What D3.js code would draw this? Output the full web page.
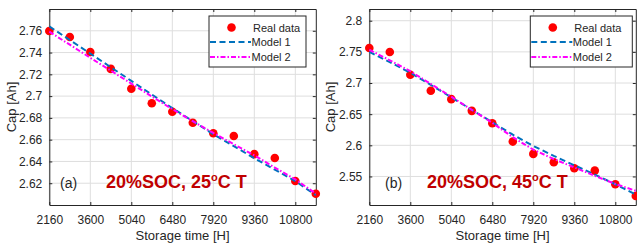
<!DOCTYPE html>
<html>
<head>
<meta charset="utf-8">
<script src="https://cdn.jsdelivr.net/npm/d3@7"></script>
<style>
  body { margin: 0; background: #fff; }
  svg { display: block; font-family: "Liberation Sans", Arial, sans-serif; }
</style>
</head>
<body>
<script>
// storage time in hours (one sample every 720 h)
const hours = [2160, 2880, 3600, 4320, 5040, 5760, 6480, 7200, 7920, 8640, 9360, 10080, 10800, 11520];

// (a) 20%SOC, 25C
const realA   = [2.7598, 2.7543, 2.7405, 2.7250, 2.7068, 2.6934, 2.6857, 2.6756, 2.6659, 2.6634, 2.6467, 2.6432, 2.6220, 2.6104];
const model1A = [2.7640, 2.7515, 2.7390, 2.7265, 2.7140, 2.7015, 2.6890, 2.6770, 2.6650, 2.6540, 2.6430, 2.6325, 2.6220, 2.6090];
const model2A = [2.7592, 2.7472, 2.7352, 2.7234, 2.7115, 2.6997, 2.6880, 2.6770, 2.6662, 2.6558, 2.6456, 2.6344, 2.6235, 2.6105];

// (b) 20%SOC, 45C
const realB   = [2.7561, 2.7497, 2.7132, 2.6875, 2.6741, 2.6553, 2.6355, 2.6060, 2.5862, 2.5728, 2.5632, 2.5594, 2.5375, 2.5187];
const model1B = [2.7500, 2.7335, 2.7165, 2.6970, 2.6770, 2.6570, 2.6370, 2.6170, 2.5990, 2.5830, 2.5680, 2.5530, 2.5375, 2.5210];
const model2B = [2.7534, 2.7365, 2.7190, 2.6985, 2.6780, 2.6570, 2.6360, 2.6130, 2.5930, 2.5780, 2.5645, 2.5510, 2.5380, 2.5270];

const xTicks  = [2160, 3600, 5040, 6480, 7920, 9360, 10800];
const yTicksA = [2.62, 2.64, 2.66, 2.68, 2.70, 2.72, 2.74, 2.76];
const yTicksB = [2.55, 2.60, 2.65, 2.70, 2.75, 2.80];

const seriesNames = ["Real data", "Model 1", "Model 2"];

const svg = d3.select("body").append("svg")
    .attr("width", 637)
    .attr("height", 246);

const axisCol = "#262626";
const blue = "#0072bd", magenta = "#ff00ff", red = "#ff0000";
const dashBlue = "6,3.5", dashMag = "5,2,1.5,2";

function drawPanel(cfg) {
    const x = d3.scaleLinear().domain([2160, 11520]).range([cfg.left, cfg.left + 266.5]);
    const y = d3.scaleLinear().domain(cfg.yDomain).range([205, 9]);
    const [x0, x1] = x.range();
    const [y0, y1] = y.range();

    const g = svg.append("g");

    // grid
    g.append("g").selectAll("line.gx").data(xTicks).join("line")
        .attr("x1", d => x(d)).attr("x2", d => x(d))
        .attr("y1", y0).attr("y2", y1)
        .attr("stroke", "#dedede").attr("stroke-width", 1);
    g.append("g").selectAll("line.gy").data(cfg.yTicks).join("line")
        .attr("x1", x0).attr("x2", x1)
        .attr("y1", d => y(d)).attr("y2", d => y(d))
        .attr("stroke", "#dedede").attr("stroke-width", 1);

    // axes (ticks inward, box on)
    const ax = g.append("g").attr("font-size", 12).attr("fill", axisCol);
    const xb = ax.append("g").attr("transform", `translate(0,${y0})`)
        .call(d3.axisBottom(x).tickValues(xTicks).tickSizeInner(-3).tickSizeOuter(0).tickPadding(10).tickFormat(d3.format("d")));
    const xt = ax.append("g").attr("transform", `translate(0,${y1})`)
        .call(d3.axisTop(x).tickValues(xTicks).tickSizeInner(-3).tickSizeOuter(0).tickFormat(""));
    const yl = ax.append("g").attr("transform", `translate(${x0},0)`)
        .call(d3.axisLeft(y).tickValues(cfg.yTicks).tickSizeInner(-3).tickSizeOuter(0).tickPadding(7).tickFormat(d => +d.toFixed(2) + ""));
    const yr = ax.append("g").attr("transform", `translate(${x1},0)`)
        .call(d3.axisRight(y).tickValues(cfg.yTicks).tickSizeInner(-3).tickSizeOuter(0).tickFormat(""));
    [xb, xt, yl, yr].forEach(a => {
        a.attr("font-family", null).attr("font-size", null);
        a.select(".domain").attr("stroke", axisCol);
        a.selectAll(".tick line").attr("stroke", axisCol);
        a.selectAll(".tick text").attr("fill", axisCol);
    });

    // axis labels
    g.append("text")
        .attr("x", (x0 + x1) / 2).attr("y", 240)
        .attr("text-anchor", "middle").attr("font-size", 13).attr("fill", axisCol)
        .text("Storage time [H]");
    g.append("text")
        .attr("transform", `translate(${cfg.yLabelX},107) rotate(-90)`)
        .attr("text-anchor", "middle").attr("font-size", 13).attr("fill", axisCol)
        .text("Cap [Ah]");

    // annotations
    g.append("text")
        .attr("x", cfg.tagX).attr("y", 188)
        .attr("font-size", 14).attr("fill", axisCol)
        .text(cfg.tag);
    const note = g.append("text")
        .attr("x", cfg.noteX).attr("y", 188)
        .attr("font-size", 18).attr("font-weight", "bold").attr("fill", "#c00000");
    note.append("tspan").text("20%SOC, " + cfg.temp);
    note.append("tspan").attr("font-size", 11).attr("dy", -7).text("o");
    note.append("tspan").attr("dy", 7).text("C T");

    // data
    g.append("g").selectAll("circle").data(cfg.real).join("circle")
        .attr("cx", (d, i) => x(hours[i]))
        .attr("cy", d => y(d))
        .attr("r", 4.3)
        .attr("fill", red);

    const line = d3.line()
        .x((d, i) => x(hours[i]))
        .y(d => y(d));

    g.append("path").attr("d", line(cfg.m1))
        .attr("fill", "none").attr("stroke", blue).attr("stroke-width", 2)
        .attr("stroke-dasharray", dashBlue);
    g.append("path").attr("d", line(cfg.m2))
        .attr("fill", "none").attr("stroke", magenta).attr("stroke-width", 2)
        .attr("stroke-dasharray", dashMag);

    // legend
    const lg = g.append("g").attr("transform", `translate(${cfg.legX},16)`);
    lg.append("rect").attr("x", 0).attr("y", 0).attr("width", cfg.legW).attr("height", 51)
        .attr("fill", "#fff").attr("stroke", axisCol).attr("stroke-width", 1);
    const rows = [11.5, 26, 41];
    lg.append("circle").attr("cx", 22.5).attr("cy", rows[0]).attr("r", 4.3).attr("fill", red);
    lg.append("line").attr("x1", 1).attr("x2", 42).attr("y1", rows[1]).attr("y2", rows[1])
        .attr("stroke", blue).attr("stroke-width", 2).attr("stroke-dasharray", dashBlue);
    lg.append("line").attr("x1", 1).attr("x2", 42).attr("y1", rows[2]).attr("y2", rows[2])
        .attr("stroke", magenta).attr("stroke-width", 2).attr("stroke-dasharray", dashMag);
    lg.selectAll("text").data(seriesNames).join("text")
        .attr("x", (d, i) => i === 0 ? 44 : 42.5)
        .attr("y", (d, i) => rows[i] + 4)
        .attr("font-size", 11).attr("fill", axisCol)
        .text(d => d);
}

drawPanel({left: 49.3, yDomain: [2.60, 2.78], yTicks: yTicksA, real: realA, m1: model1A, m2: model2A,
           yLabelX: 16, tag: "(a)", tagX: 60, noteX: 106, temp: "25", legX: 209, legW: 97});
drawPanel({left: 369.3, yDomain: [2.5042, 2.8188], yTicks: yTicksB, real: realB, m1: model1B, m2: model2B,
           yLabelX: 335, tag: "(b)", tagX: 385, noteX: 427, temp: "45", legX: 530.3, legW: 102});
</script>
</body>
</html>
